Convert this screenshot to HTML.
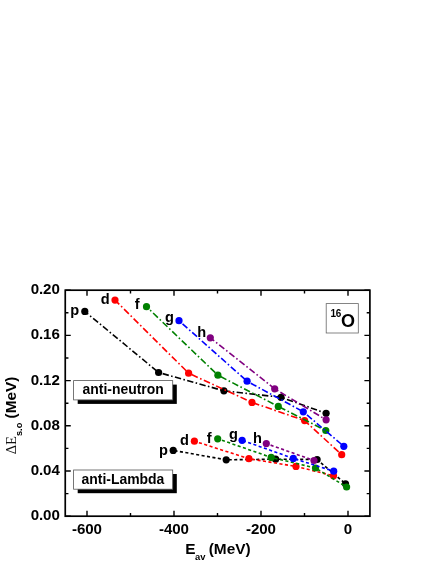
<!DOCTYPE html>
<html><head><meta charset="utf-8"><title>chart</title>
<style>
html,body{margin:0;padding:0;background:#fff;}
body{width:436px;height:564px;overflow:hidden;}
svg{display:block;will-change:transform;}
text{font-family:"Liberation Sans",sans-serif;font-weight:bold;fill:#000;}
.ser{font-family:"Liberation Serif",serif;font-weight:normal;}
</style></head><body>
<svg width="436" height="564" viewBox="0 0 436 564">
<rect x="0" y="0" width="436" height="564" fill="#fff"/>

<polyline points="84.8,311.4 158.6,372.5 223.9,390.8 281.0,397.3 326.1,413.3" fill="none" stroke="#000000" stroke-width="1.60" stroke-dasharray="6.37 2.42 1.53 2.42" stroke-dashoffset="1.9"/>
<circle cx="84.8" cy="311.4" r="3.60" fill="#000000"/>
<circle cx="158.6" cy="372.5" r="3.60" fill="#000000"/>
<circle cx="223.9" cy="390.8" r="3.60" fill="#000000"/>
<circle cx="281.0" cy="397.3" r="3.60" fill="#000000"/>
<circle cx="326.1" cy="413.3" r="3.60" fill="#000000"/>
<polyline points="115.0,300.1 188.6,373.2 252.0,402.4 304.6,420.6 341.7,454.7" fill="none" stroke="#ff0000" stroke-width="1.60" stroke-dasharray="6.73 2.56 1.62 2.56" stroke-dashoffset="0.7"/>
<circle cx="115.0" cy="300.1" r="3.60" fill="#ff0000"/>
<circle cx="188.6" cy="373.2" r="3.60" fill="#ff0000"/>
<circle cx="252.0" cy="402.4" r="3.60" fill="#ff0000"/>
<circle cx="304.6" cy="420.6" r="3.60" fill="#ff0000"/>
<circle cx="341.7" cy="454.7" r="3.60" fill="#ff0000"/>
<polyline points="146.5,306.7 217.9,375.2 278.3,406.4 325.8,430.5" fill="none" stroke="#008000" stroke-width="1.60" stroke-dasharray="6.62 2.52 1.59 2.52" stroke-dashoffset="4.1"/>
<circle cx="146.5" cy="306.7" r="3.60" fill="#008000"/>
<circle cx="217.9" cy="375.2" r="3.60" fill="#008000"/>
<circle cx="278.3" cy="406.4" r="3.60" fill="#008000"/>
<circle cx="325.8" cy="430.5" r="3.60" fill="#008000"/>
<polyline points="179.0,320.7 247.1,381.2 303.3,411.8 343.8,446.3" fill="none" stroke="#0000ff" stroke-width="1.60" stroke-dasharray="6.46 2.46 1.55 2.46" stroke-dashoffset="8.2"/>
<circle cx="179.0" cy="320.7" r="3.60" fill="#0000ff"/>
<circle cx="247.1" cy="381.2" r="3.60" fill="#0000ff"/>
<circle cx="303.3" cy="411.8" r="3.60" fill="#0000ff"/>
<circle cx="343.8" cy="446.3" r="3.60" fill="#0000ff"/>
<polyline points="210.3,337.8 274.7,388.8 326.1,419.8" fill="none" stroke="#800080" stroke-width="1.60" stroke-dasharray="6.45 2.45 1.55 2.45" stroke-dashoffset="1.5"/>
<circle cx="210.3" cy="337.8" r="3.60" fill="#800080"/>
<circle cx="274.7" cy="388.8" r="3.60" fill="#800080"/>
<circle cx="326.1" cy="419.8" r="3.60" fill="#800080"/>
<polyline points="173.2,450.4 226.2,459.8 275.6,459.2 317.1,459.5 345.5,483.8" fill="none" stroke="#000000" stroke-width="1.60" stroke-dasharray="3.08 2.42" stroke-dashoffset="4.2"/>
<circle cx="173.2" cy="450.4" r="3.60" fill="#000000"/>
<circle cx="226.2" cy="459.8" r="3.60" fill="#000000"/>
<circle cx="275.6" cy="459.2" r="3.60" fill="#000000"/>
<circle cx="317.1" cy="459.5" r="3.60" fill="#000000"/>
<circle cx="345.5" cy="483.8" r="3.60" fill="#000000"/>
<polyline points="194.4,441.2 248.9,458.7 296.0,466.4 333.5,475.8" fill="none" stroke="#ff0000" stroke-width="1.60" stroke-dasharray="3.11 2.45" stroke-dashoffset="0.8"/>
<circle cx="194.4" cy="441.2" r="3.60" fill="#ff0000"/>
<circle cx="248.9" cy="458.7" r="3.60" fill="#ff0000"/>
<circle cx="296.0" cy="466.4" r="3.60" fill="#ff0000"/>
<circle cx="333.5" cy="475.8" r="3.60" fill="#ff0000"/>
<polyline points="217.7,438.8 271.2,457.4 315.5,468.0 346.6,487.0" fill="none" stroke="#008000" stroke-width="1.60" stroke-dasharray="3.11 2.45" stroke-dashoffset="1.1"/>
<circle cx="217.7" cy="438.8" r="3.60" fill="#008000"/>
<circle cx="271.2" cy="457.4" r="3.60" fill="#008000"/>
<circle cx="315.5" cy="468.0" r="3.60" fill="#008000"/>
<circle cx="346.6" cy="487.0" r="3.60" fill="#008000"/>
<polyline points="242.1,440.3 293.3,458.4 333.7,471.2" fill="none" stroke="#0000ff" stroke-width="1.60" stroke-dasharray="3.11 2.45" stroke-dashoffset="4.7"/>
<circle cx="242.1" cy="440.3" r="3.60" fill="#0000ff"/>
<circle cx="293.3" cy="458.4" r="3.60" fill="#0000ff"/>
<circle cx="333.7" cy="471.2" r="3.60" fill="#0000ff"/>
<polyline points="266.3,443.6 314.0,460.5" fill="none" stroke="#800080" stroke-width="1.60" stroke-dasharray="3.11 2.45" stroke-dashoffset="1.0"/>
<circle cx="266.3" cy="443.6" r="3.60" fill="#800080"/>
<circle cx="314.0" cy="460.5" r="3.60" fill="#800080"/>
<rect x="65.25" y="290.20" width="304.65" height="226.00" fill="none" stroke="#000" stroke-width="1.70"/>
<path d="M65.25 516.20h5.50M369.90 516.20h-5.50M65.25 493.60h3.20M369.90 493.60h-3.20M65.25 471.00h5.50M369.90 471.00h-5.50M65.25 448.40h3.20M369.90 448.40h-3.20M65.25 425.80h5.50M369.90 425.80h-5.50M65.25 403.20h3.20M369.90 403.20h-3.20M65.25 380.60h5.50M369.90 380.60h-5.50M65.25 358.00h3.20M369.90 358.00h-3.20M65.25 335.40h5.50M369.90 335.40h-5.50M65.25 312.80h3.20M369.90 312.80h-3.20M65.25 290.20h5.50M369.90 290.20h-5.50M87.00 290.20v5.50M87.00 516.20v-5.50M130.50 290.20v3.20M130.50 516.20v-3.20M174.00 290.20v5.50M174.00 516.20v-5.50M217.50 290.20v3.20M217.50 516.20v-3.20M261.00 290.20v5.50M261.00 516.20v-5.50M304.50 290.20v3.20M304.50 516.20v-3.20M348.00 290.20v5.50M348.00 516.20v-5.50" stroke="#000" stroke-width="1.40" fill="none"/>
<text x="59.7" y="520.20" font-size="15.1" text-anchor="end" letter-spacing="-0.1">0.00</text>
<text x="59.7" y="475.00" font-size="15.1" text-anchor="end" letter-spacing="-0.1">0.04</text>
<text x="59.7" y="429.80" font-size="15.1" text-anchor="end" letter-spacing="-0.1">0.08</text>
<text x="59.7" y="384.60" font-size="15.1" text-anchor="end" letter-spacing="-0.1">0.12</text>
<text x="59.7" y="339.40" font-size="15.1" text-anchor="end" letter-spacing="-0.1">0.16</text>
<text x="59.7" y="294.20" font-size="15.1" text-anchor="end" letter-spacing="-0.1">0.20</text>
<text x="87.00" y="534.4" font-size="15.1" text-anchor="middle" letter-spacing="-0.1">-600</text>
<text x="174.00" y="534.4" font-size="15.1" text-anchor="middle" letter-spacing="-0.1">-400</text>
<text x="261.00" y="534.4" font-size="15.1" text-anchor="middle" letter-spacing="-0.1">-200</text>
<text x="348.00" y="534.4" font-size="15.1" text-anchor="middle" letter-spacing="-0.1">0</text>
<text x="185.2" y="554.2" font-size="15.4">E</text><text x="195.1" y="560.2" font-size="9.4">av</text><text x="208.7" y="554.2" font-size="15.4">(MeV)</text>
<g transform="translate(16.2,454.2) rotate(-90)"><text x="0" y="0" font-size="15"><tspan class="ser" font-size="14.5" fill="#111">ΔE</tspan><tspan font-size="9.2" dy="6.2">s.o</tspan><tspan dy="-6.2" font-size="15.4"> (MeV)</tspan></text></g>
<rect x="77.70" y="384.60" width="99.10" height="19.30" fill="#000"/>
<rect x="73.60" y="380.60" width="99.10" height="19.30" fill="#fff" stroke="#555" stroke-width="0.8"/>
<text x="82.50" y="394.40" font-size="13.95">anti-neutron</text>
<rect x="77.70" y="474.00" width="99.10" height="19.20" fill="#000"/>
<rect x="73.60" y="470.00" width="99.10" height="19.20" fill="#fff" stroke="#555" stroke-width="0.8"/>
<text x="81.50" y="484.00" font-size="13.95">anti-Lambda</text>
<rect x="326.2" y="303.6" width="32.1" height="29.4" fill="#fff" stroke="#666" stroke-width="0.8"/>
<text x="330.5" y="316.5" font-size="10" letter-spacing="-0.25">16</text><text x="341.0" y="326.9" font-size="18">O</text>
<text x="70.3" y="314.8" font-size="14.6">p</text>
<text x="100.7" y="304.2" font-size="14.6">d</text>
<text x="134.8" y="309.3" font-size="14.6">f</text>
<text x="165.1" y="322.0" font-size="14.6">g</text>
<text x="197.2" y="337.1" font-size="14.6">h</text>
<text x="159.0" y="455.4" font-size="14.6">p</text>
<text x="180.0" y="445.4" font-size="14.6">d</text>
<text x="206.8" y="443.0" font-size="14.6">f</text>
<text x="229.0" y="439.2" font-size="14.6">g</text>
<text x="253.0" y="442.9" font-size="14.6">h</text>
</svg></body></html>
